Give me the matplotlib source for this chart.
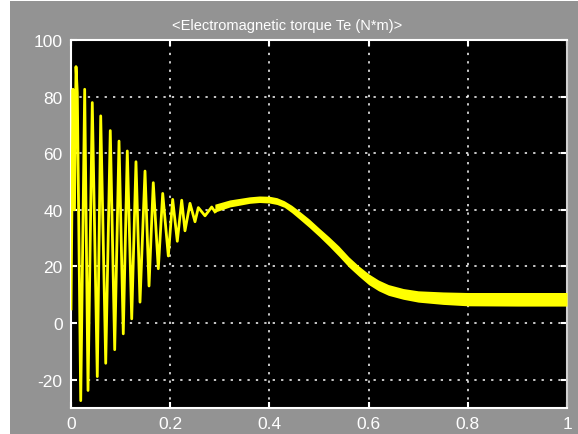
import matplotlib
matplotlib.use('Agg')
import matplotlib.pyplot as plt
from matplotlib.patches import Rectangle
import numpy as np

plt.rcParams['font.family'] = ['Liberation Sans', 'DejaVu Sans']
plt.rcParams['axes.unicode_minus'] = False

# start-up oscillation: alternating peaks / troughs
t_osc = [0.000, 0.004, 0.007, 0.0101, 0.0127, 0.0196, 0.0276, 0.0343, 0.0429, 0.0530,
         0.0599, 0.0700, 0.0792, 0.0881, 0.0968, 0.1054, 0.1135, 0.1224, 0.1310,
         0.1391, 0.1492, 0.1573, 0.1659, 0.1760, 0.1849, 0.1962, 0.2050, 0.2143,
         0.2232, 0.2298, 0.2399, 0.2500, 0.2567, 0.2702, 0.2837, 0.2903]
te_osc = [5.0, 82.6, 40.0, 90.6, 81.4, -27.4, 82.6, -23.8, 77.9, -18.9,
          73.2, -14.2, 68.0, -9.4, 64.3, -3.8, 60.8, 1.5, 57.0,
          7.4, 53.7, 13.1, 49.6, 19.2, 45.8, 23.7, 43.7, 28.9,
          43.4, 32.6, 42.3, 35.8, 40.8, 37.9, 41.0, 39.3]

# later part: torque ripple band (upper / lower edge)
t_band = [0.29, 0.32, 0.36, 0.38, 0.40, 0.415, 0.43, 0.445, 0.46, 0.48, 0.50, 0.52,
          0.54, 0.56, 0.58, 0.60, 0.62, 0.64, 0.67, 0.70, 0.75, 0.80, 0.90, 1.00]
te_up = [42.0, 43.5, 44.6, 44.9, 44.8, 44.3, 43.2, 41.6, 39.6, 36.8, 33.6, 30.5,
         27.2, 23.4, 20.2, 17.4, 15.2, 13.6, 12.2, 11.4, 11.0, 10.8, 10.8, 10.8]
te_lo = [39.2, 41.0, 42.3, 42.6, 42.4, 41.9, 40.9, 39.0, 36.8, 33.8, 30.6, 27.2,
         23.6, 19.8, 16.6, 13.6, 11.4, 9.8, 8.4, 7.4, 6.6, 6.1, 6.0, 6.0]

xticks = [0, 0.2, 0.4, 0.6, 0.8, 1]
xlabels = ['0', '0.2', '0.4', '0.6', '0.8', '1']
yticks = [-20, 0, 20, 40, 60, 80, 100]

gray = '#939393'
yel = '#ffff00'

fig = plt.figure(figsize=(5.78, 4.35), dpi=100)
fig.patch.set_facecolor(gray)
# white strip on the left / top of the scope window
fig.patches.append(Rectangle((0, 0), 10/578, 1, transform=fig.transFigure,
                             facecolor='white', edgecolor='none'))
fig.patches.append(Rectangle((0, 1 - 2/435), 1, 2/435, transform=fig.transFigure,
                             facecolor='white', edgecolor='none'))

ax = fig.add_axes([71/578, 1 - 409/435, 496/578, 368/435])
ax.set_facecolor('black')

ax.plot(t_osc, te_osc, color=yel, lw=2.0, zorder=3)
ax.fill_between(t_band, te_lo, te_up, color=yel, lw=0, zorder=3)

ax.set_xlim(0, 1)
ax.set_ylim(-30, 100)
ax.set_xticks(xticks)
ax.set_xticklabels(xlabels)
ax.set_yticks(yticks)
ax.grid(True, color='white', linestyle=(0, (1.5, 4)), lw=1.1)
ax.tick_params(direction='in', length=4, width=1.5, color='white', labelcolor='white',
               labelsize=12.5, top=True, right=True, pad=6)

for s in ['left', 'bottom', 'top']:
    ax.spines[s].set_color('white')
    ax.spines[s].set_linewidth(1.5)
ax.spines['right'].set_color('#d0d0d0')
ax.spines['right'].set_linewidth(1.5)

fig.text(287/578, 1 - 26/435, '<Electromagnetic torque Te (N*m)>', color='white',
         fontsize=10.5, ha='center', va='center')

fig.savefig('out.png', dpi=100, facecolor=fig.get_facecolor())
